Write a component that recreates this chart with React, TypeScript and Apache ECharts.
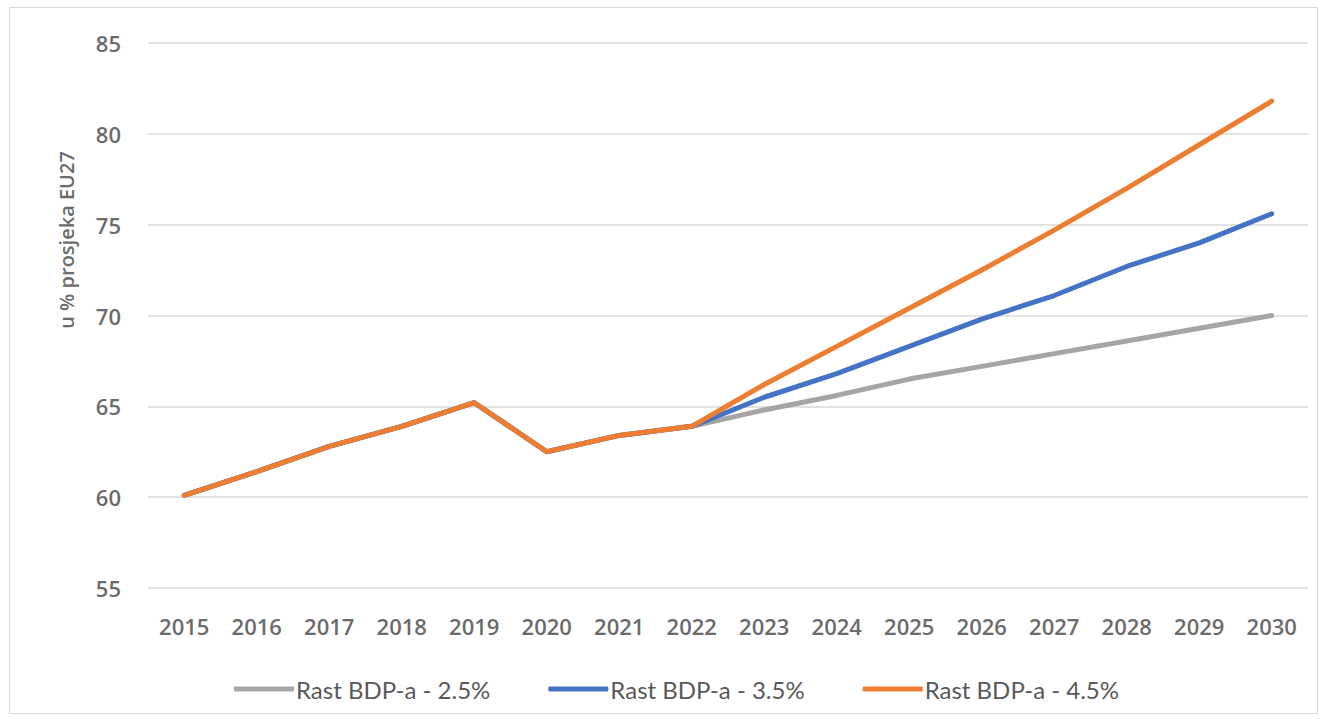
import React, { useEffect, useRef } from "react";
import * as echarts from "echarts";

const years = ["2015","2016","2017","2018","2019","2020","2021","2022","2023","2024","2025","2026","2027","2028","2029","2030"];
const growth25 = [60.1, 61.4, 62.8, 63.9, 65.2, 62.5, 63.4, 63.9, 64.8, 65.6, 66.5, 67.2, 67.9, 68.6, 69.3, 70.0];
const growth35 = [60.1, 61.4, 62.8, 63.9, 65.2, 62.5, 63.4, 63.9, 65.5, 66.8, 68.3, 69.8, 71.1, 72.7, 74.0, 75.6];
const growth45 = [60.1, 61.4, 62.8, 63.9, 65.2, 62.5, 63.4, 63.9, 66.2, 68.3, 70.4, 72.5, 74.7, 77.0, 79.4, 81.8];
const seriesNames = ["Rast BDP-a - 2.5%", "Rast BDP-a - 3.5%", "Rast BDP-a - 4.5%"];
const yAxisName = "u % prosjeka EU27";

export default function App() {
  const ref = useRef<HTMLDivElement>(null);
  useEffect(() => {
    const chart = echarts.init(ref.current!, null, { renderer: "svg" });
    const colors = ["#A5A5A5", "#4472C4", "#ED7D31"];
    const data = [growth25, growth35, growth45];
    const labelFont = { color: "#6B6B6B", fontSize: 22, fontWeight: 600, fontFamily: "Open Sans, sans-serif" };
    chart.setOption({
      animation: false,
      backgroundColor: "#ffffff",
      graphic: [
        {
          type: "rect",
          shape: { x: 9.5, y: 7.5, width: 1308, height: 706 },
          style: { fill: "none", stroke: "#D9D9D9", lineWidth: 1 },
          silent: true,
        },
        {
          type: "text",
          x: 66,
          y: 240,
          rotation: Math.PI / 2,
          style: {
            text: yAxisName,
            align: "center",
            verticalAlign: "middle",
            fill: "#6B6B6B",
            fontSize: 20,
            fontWeight: 600,
            fontFamily: "Open Sans, sans-serif",
          },
        },
      ],
      grid: { left: 148, right: 16, top: 43, bottom: 133 },
      legend: {
        top: 677,
        left: 234,
        padding: 0,
        itemWidth: 60,
        itemHeight: 5,
        itemGap: 58,
        icon: "roundRect",
        textStyle: { fontFamily: "Lato, sans-serif", fontSize: 24, color: "#595959", padding: [0, 0, 0, -3] },
        data: seriesNames,
      },
      xAxis: {
        type: "category",
        data: years,
        boundaryGap: true,
        axisLine: { show: false },
        axisTick: { show: false },
        axisLabel: { ...labelFont, margin: 27 },
      },
      yAxis: {
        type: "value",
        min: 55,
        max: 85,
        interval: 5,
        axisLine: { show: false },
        axisTick: { show: false },
        axisLabel: { ...labelFont, margin: 27 },
        splitLine: { lineStyle: { color: "#D9D9D9", width: 1.5 } },
      },
      series: seriesNames.map((n, i) => ({
        name: n,
        type: "line",
        data: data[i],
        showSymbol: false,
        symbol: "none",
        lineStyle: { color: colors[i], width: 5, cap: "round", join: "round" },
        itemStyle: { color: colors[i] },
        z: 2 + i,
      })),
    });
    return () => chart.dispose();
  }, []);
  return <div ref={ref} style={{ position: "fixed", left: 0, top: 0, width: 1324, height: 721 }} />;
}
